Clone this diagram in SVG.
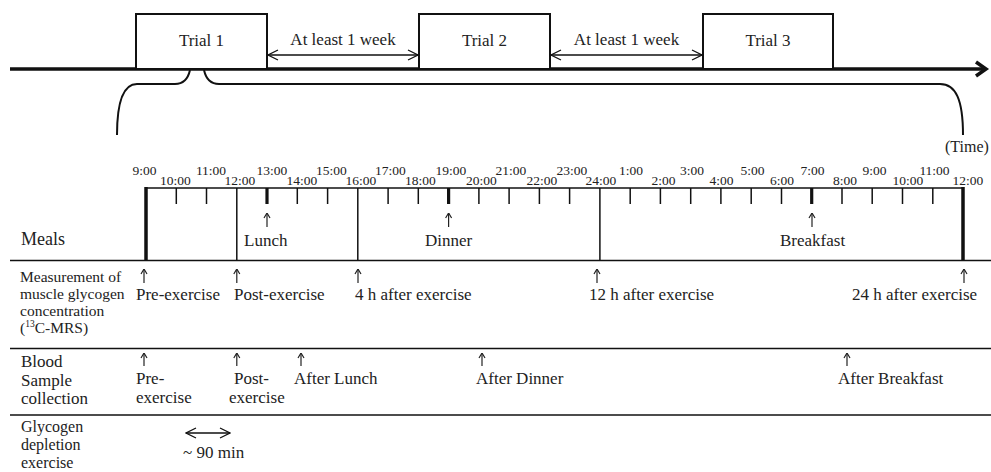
<svg xmlns="http://www.w3.org/2000/svg" width="991" height="472" viewBox="0 0 991 472">
<defs>
<style>
text{font-family:"Liberation Serif","DejaVu Serif",serif;fill:#222;}
.t{font-size:17px;}
.lab{font-size:15.5px;}
.hr{font-size:13.5px;text-anchor:middle;}
.box{fill:#fff;stroke:#111;stroke-width:2;}
.ln{stroke:#111;fill:none;}
.up{stroke:#222;stroke-width:1.2;fill:none;}
</style>
<marker id="chev" viewBox="0 0 12 12" refX="11" refY="6" markerWidth="12" markerHeight="12" markerUnits="userSpaceOnUse" orient="auto-start-reverse">
<path d="M1,1 L11,6 L1,11" fill="none" stroke="#111" stroke-width="1.3"/>
</marker>
<marker id="tip" viewBox="0 0 8 8" refX="7.5" refY="4" markerWidth="8" markerHeight="8" markerUnits="userSpaceOnUse" orient="auto">
<path d="M2.5,1 L7.5,4 L2.5,7" fill="none" stroke="#222" stroke-width="1.2"/>
</marker>
</defs>
<rect width="991" height="472" fill="#fff"/>

<!-- main time axis -->
<g id="axis">
<line class="ln" x1="10" y1="69" x2="985" y2="69" stroke-width="3.5"/>
<path class="ln" d="M976,62 L986,69 L976,76" stroke-width="3.5"/>
</g>

<g id="trial1"><rect class="box" x="136" y="14" width="131" height="55"/><text class="t" x="201.5" y="46" text-anchor="middle">Trial 1</text></g>
<g id="trial2"><rect class="box" x="419" y="14" width="131" height="55"/><text class="t" x="484.5" y="46" text-anchor="middle">Trial 2</text></g>
<g id="trial3"><rect class="box" x="703" y="14" width="130" height="55"/><text class="t" x="768" y="46" text-anchor="middle">Trial 3</text></g>

<g id="connectors">
<line class="ln" x1="268" y1="55" x2="418" y2="55" stroke-width="1.3" marker-start="url(#chev)" marker-end="url(#chev)"/>
<line class="ln" x1="551" y1="55" x2="702" y2="55" stroke-width="1.3" marker-start="url(#chev)" marker-end="url(#chev)"/>
<text class="t" x="343" y="45" text-anchor="middle">At least 1 week</text>
<text class="t" x="626.5" y="45" text-anchor="middle">At least 1 week</text>
<line class="ln" x1="186" y1="433" x2="230" y2="433" stroke-width="1.3" marker-start="url(#chev)" marker-end="url(#chev)"/>
<!-- up arrows -->
<g class="up" marker-end="url(#tip)">
<line x1="267" y1="227" x2="267" y2="213"/>
<line x1="448.6" y1="227" x2="448.6" y2="213"/>
<line x1="812" y1="227" x2="812" y2="213"/>
<line x1="144" y1="283" x2="144" y2="269"/>
<line x1="236.8" y1="283" x2="236.8" y2="269"/>
<line x1="358" y1="283" x2="358" y2="269"/>
<line x1="597" y1="283" x2="597" y2="269"/>
<line x1="964" y1="283" x2="964" y2="269"/>
<line x1="144" y1="366" x2="144" y2="353"/>
<line x1="236.8" y1="366" x2="236.8" y2="353"/>
<line x1="301" y1="366" x2="301" y2="353"/>
<line x1="482" y1="366" x2="482" y2="353"/>
<line x1="847" y1="366" x2="847" y2="353"/>
</g>
</g>

<!-- brace -->
<g id="brace" class="ln" stroke-width="2">
<path d="M190,70 C188,79 183,84 175,84 L137,84 C123,84 117,102 117,135"/>
<path d="M204,70 C206,79 211,84 219,84 L940,84 C956,84 963,100 963,135"/>
</g>
<text x="945" y="152" style="font-size:16px">(Time)</text>

<!-- ruler -->
<g id="ruler" class="ln">
<line x1="146" y1="188" x2="963" y2="188" stroke-width="1.5"/>
<line x1="146" y1="187" x2="146" y2="261" stroke-width="3.5"/>
<line x1="963" y1="187" x2="963" y2="261" stroke-width="3.5"/>
<line x1="236.8" y1="188" x2="236.8" y2="261" stroke-width="1.5"/>
<line x1="357.8" y1="188" x2="357.8" y2="261" stroke-width="1.5"/>
<line x1="599.9" y1="188" x2="599.9" y2="261" stroke-width="1.5"/>
<g stroke-width="1.5">
<line x1="176.3" y1="188" x2="176.3" y2="204"/>
<line x1="206.5" y1="188" x2="206.5" y2="204"/>
<line x1="297.3" y1="188" x2="297.3" y2="204"/>
<line x1="327.6" y1="188" x2="327.6" y2="204"/>
<line x1="388.1" y1="188" x2="388.1" y2="204"/>
<line x1="418.3" y1="188" x2="418.3" y2="204"/>
<line x1="478.9" y1="188" x2="478.9" y2="204"/>
<line x1="509.1" y1="188" x2="509.1" y2="204"/>
<line x1="539.4" y1="188" x2="539.4" y2="204"/>
<line x1="569.6" y1="188" x2="569.6" y2="204"/>
<line x1="630.2" y1="188" x2="630.2" y2="204"/>
<line x1="660.4" y1="188" x2="660.4" y2="204"/>
<line x1="690.7" y1="188" x2="690.7" y2="204"/>
<line x1="720.9" y1="188" x2="720.9" y2="204"/>
<line x1="751.2" y1="188" x2="751.2" y2="204"/>
<line x1="781.5" y1="188" x2="781.5" y2="204"/>
<line x1="842" y1="188" x2="842" y2="204"/>
<line x1="872.2" y1="188" x2="872.2" y2="204"/>
<line x1="902.5" y1="188" x2="902.5" y2="204"/>
<line x1="932.8" y1="188" x2="932.8" y2="204"/>
</g>
<g stroke-width="3.2">
<line x1="267" y1="188" x2="267" y2="204"/>
<line x1="448.6" y1="188" x2="448.6" y2="204"/>
<line x1="811.7" y1="188" x2="811.7" y2="204"/>
</g>
</g>

<g id="hours">
<text class="hr" x="144.5" y="175">9:00</text>
<text class="hr" x="175.5" y="185">10:00</text>
<text class="hr" x="211" y="175">11:00</text>
<text class="hr" x="240" y="185">12:00</text>
<text class="hr" x="272" y="175">13:00</text>
<text class="hr" x="302" y="185">14:00</text>
<text class="hr" x="331.5" y="175">15:00</text>
<text class="hr" x="361" y="185">16:00</text>
<text class="hr" x="390.5" y="175">17:00</text>
<text class="hr" x="420.5" y="185">18:00</text>
<text class="hr" x="451" y="175">19:00</text>
<text class="hr" x="481.5" y="185">20:00</text>
<text class="hr" x="511" y="175">21:00</text>
<text class="hr" x="542" y="185">22:00</text>
<text class="hr" x="572" y="175">23:00</text>
<text class="hr" x="601" y="185">24:00</text>
<text class="hr" x="631" y="175">1:00</text>
<text class="hr" x="663.5" y="185">2:00</text>
<text class="hr" x="692" y="175">3:00</text>
<text class="hr" x="721.5" y="185">4:00</text>
<text class="hr" x="752.5" y="175">5:00</text>
<text class="hr" x="782" y="185">6:00</text>
<text class="hr" x="812.5" y="175">7:00</text>
<text class="hr" x="845" y="185">8:00</text>
<text class="hr" x="874.5" y="175">9:00</text>
<text class="hr" x="908" y="185">10:00</text>
<text class="hr" x="934.5" y="175">11:00</text>
<text class="hr" x="968" y="185">12:00</text>
</g>

<!-- row separators -->
<g id="rows" class="ln" stroke="#222" stroke-width="1.6">
<line x1="10" y1="260.5" x2="991" y2="260.5"/>
<line x1="10" y1="348.5" x2="991" y2="348.5"/>
<line x1="10" y1="415" x2="991" y2="415"/>
</g>

<!-- meals row -->
<g id="meals">
<text x="21" y="245" style="font-size:18px">Meals</text>
<text class="t" x="244" y="246">Lunch</text>
<text class="t" x="425" y="246">Dinner</text>
<text class="t" x="780" y="246">Breakfast</text>
</g>

<!-- measurement row -->
<g id="measurement">
<text class="lab" x="20" y="282">Measurement of</text>
<text class="lab" x="20" y="299">muscle glycogen</text>
<text class="lab" x="20" y="316">concentration</text>
<text class="lab" x="20" y="333">(<tspan style="font-size:9.5px" dy="-6">13</tspan><tspan dy="6">C-MRS)</tspan></text>
<text class="t" x="136" y="300">Pre-exercise</text>
<text class="t" x="234" y="300">Post-exercise</text>
<text class="t" x="355" y="300">4 h after exercise</text>
<text class="t" x="589" y="300">12 h after exercise</text>
<text class="t" x="852" y="300">24 h after exercise</text>
</g>

<!-- blood row -->
<g id="blood">
<text class="t" x="21" y="367">Blood</text>
<text class="t" x="21" y="386">Sample</text>
<text class="t" x="21" y="404">collection</text>
<text class="t" x="136" y="384">Pre-</text>
<text class="t" x="136" y="403">exercise</text>
<text class="t" x="234" y="384">Post-</text>
<text class="t" x="229" y="403">exercise</text>
<text class="t" x="294" y="384">After Lunch</text>
<text class="t" x="476" y="384">After Dinner</text>
<text class="t" x="838" y="384">After Breakfast</text>
</g>

<!-- glycogen depletion row -->
<g id="depletion">
<text x="21" y="432" style="font-size:16px">Glycogen</text>
<text x="21" y="450" style="font-size:16px">depletion</text>
<text x="21" y="468" style="font-size:16px">exercise</text>
<text class="t" x="183" y="458">~ 90 min</text>
</g>
</svg>
